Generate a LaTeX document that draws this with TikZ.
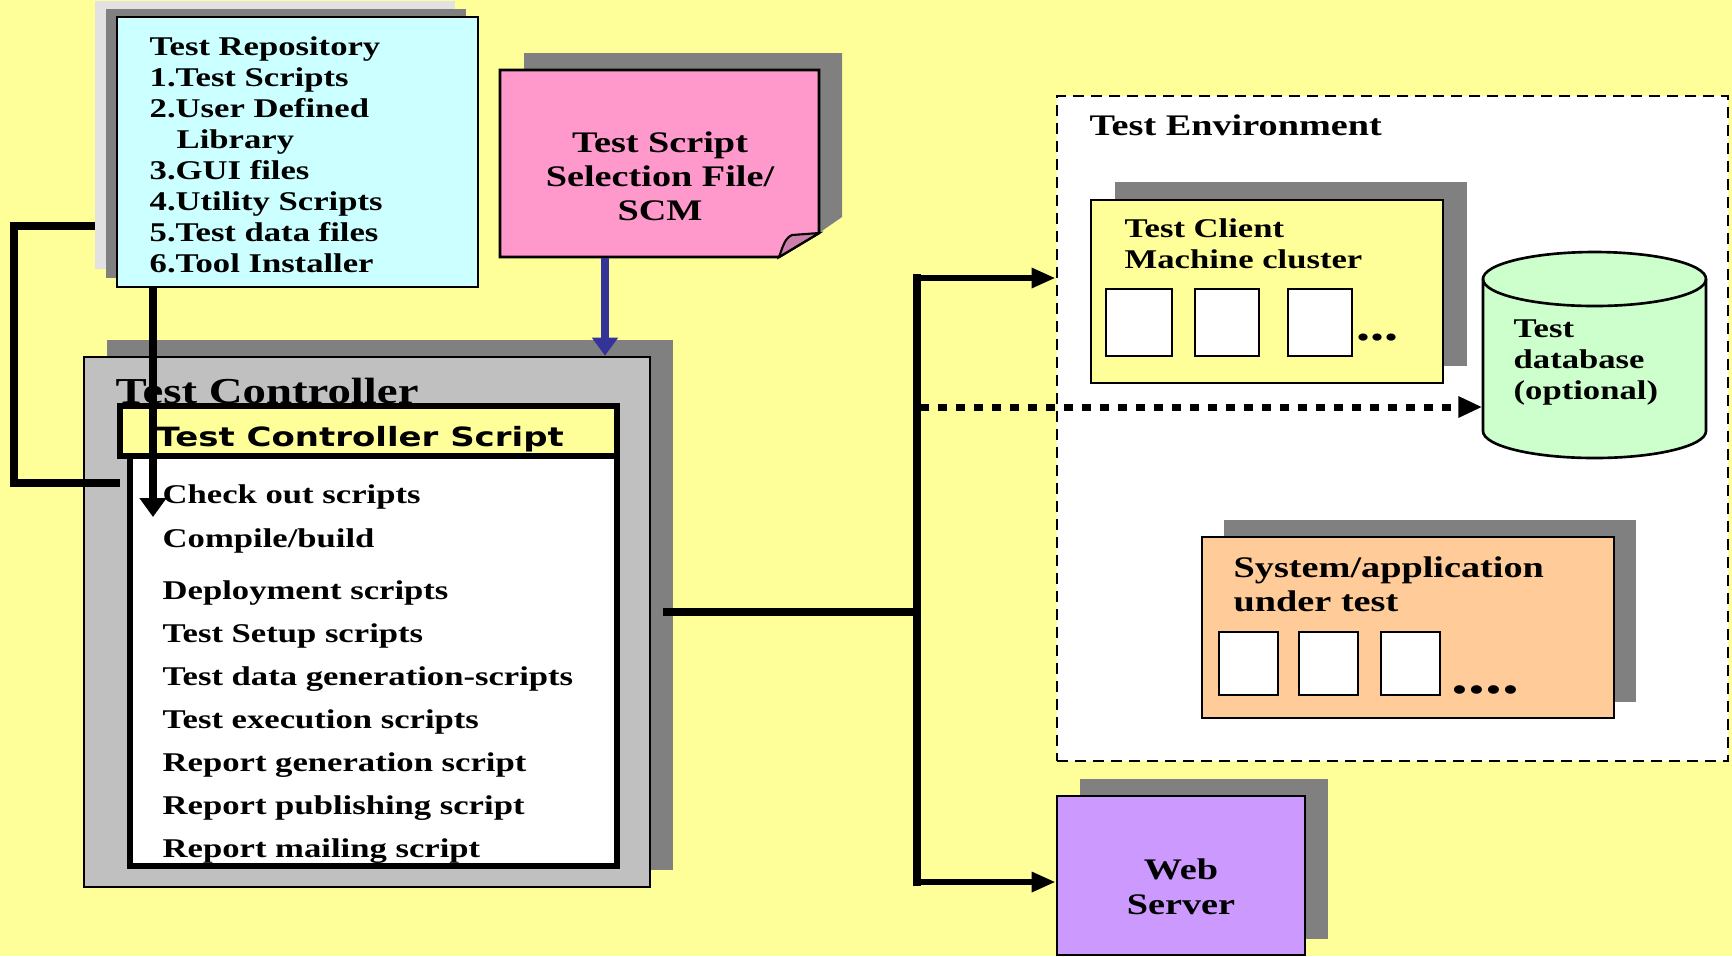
\documentclass[tikz,border=0pt]{standalone}
\usepackage{fontspec}
\setmainfont{Liberation Serif}[FakeStretch=1.28]
\newfontfamily\ctlsans{DejaVu Sans}[FakeStretch=1.28]
\usetikzlibrary{fit,arrows.meta}

\definecolor{bgyellow}{HTML}{FFFF99}
\definecolor{repocyan}{HTML}{CCFFFF}
\definecolor{notepink}{HTML}{FF99CC}
\definecolor{foldpink}{HTML}{CC7FAA}
\definecolor{dropgray}{HTML}{808080}
\definecolor{palegray}{HTML}{E2E2E2}
\definecolor{ctlgray}{HTML}{C0C0C0}
\definecolor{dbgreen}{HTML}{CCFFCC}
\definecolor{sutpeach}{HTML}{FFCC99}
\definecolor{webviolet}{HTML}{CC99FF}
\definecolor{selblue}{HTML}{333399}

% text sizes (1 unit = 0.1mm)
\newcommand\txtS{\fontsize{7.7pt}{8.8pt}\selectfont\bfseries}
\newcommand\txtM{\fontsize{8.5pt}{9.6pt}\selectfont\bfseries}
\newcommand\txtL{\fontsize{10.4pt}{12pt}\selectfont\bfseries}
\newcommand\txtC{\fontsize{7.55pt}{8.6pt}\selectfont\ctlsans\bfseries}

\begin{document}
\begin{tikzpicture}[x=0.1mm, y=-0.1mm,
  outline/.style={draw=black, line width=0.75pt, inner sep=0pt},
  heavyoutline/.style={draw=black, line width=1.5pt, inner sep=0pt},
  region/.style={inner sep=0pt},
  dropshadow/.style={fill=dropgray},
  txt/.style={anchor=base west, inner sep=0pt, font=\txtS},
  mtxt/.style={anchor=base west, inner sep=0pt, font=\txtM},
  ctxt/.style={anchor=base, inner sep=0pt, font=\txtM},
  wire/.style={line width=2.2pt},
  feed/.style={line width=1.7pt, -{Triangle[length=2.4mm,width=1.9mm]}},
  optfeed/.style={line width=2pt, dash pattern=on 0.9mm off 0.9mm,
                  -{Triangle[length=2.4mm,width=2mm]}},
  pull/.style={line width=2.2pt, -{Triangle[length=1.9mm,width=2.6mm]}},
  select/.style={draw=selblue, line width=2.3pt,
                 -{Triangle[length=1.8mm,width=2.5mm]}},
  slot/.style={outline, fill=white},
]
% page
\fill[bgyellow] (0,0) rectangle (1732,956);
\useasboundingbox (0,0) rectangle (1732,956);

% ---------------- Test repository
\fill[palegray] (95,1) rectangle (455,269);
\fill[dropshadow] (106,9) rectangle (466,278);
\node[outline, fill=repocyan, fit={(117,17) (478,287)}] (repo) {};
\node[txt] (repo-title) at (149,55) {Test Repository};
\node[txt] (repo-1) at (149,86) {1.Test Scripts};
\node[txt] (repo-2) at (149,117) {2.User Defined};
\node[txt] (repo-2b) at (176,148) {Library};
\node[txt] (repo-3) at (149,179) {3.GUI files};
\node[txt] (repo-4) at (149,210) {4.Utility Scripts};
\node[txt] (repo-5) at (149,241) {5.Test data files};
\node[txt] (repo-6) at (149,272) {6.Tool Installer};

% ---------------- Selection file (folded note)
\fill[dropshadow] (524,53) -- (842,53) -- (842,217) -- (819,233) -- (524,233) -- cycle;
\node[region, fit={(500,70) (819,257)}] (note) {};
\filldraw[fill=notepink, draw=black, line width=0.75pt]
  (500,70) -- (819,70) -- (819,233) -- (779,257) -- (500,257) -- cycle;
\filldraw[fill=foldpink, draw=black, line width=0.6pt]
  (779,257) .. controls (783,246) and (785,238) .. (792,235) -- (819,233) -- cycle;
\node[ctxt] (note-1) at (660,152) {Test Script};
\node[ctxt] (note-2) at (660,186) {Selection File/};
\node[ctxt] (note-3) at (660,220) {SCM};

% ---------------- Test controller
\fill[dropshadow] (107,340) rectangle (673,870);
\node[outline, fill=ctlgray, fit={(84,357) (650,887)}] (ctl) {};
\node[anchor=base west, inner sep=0pt, font=\txtL] (ctl-title) at (115,403) {Test Controller};
\node[heavyoutline, fill=white, fit={(130,456) (617,866)}] (steps) {};
\node[heavyoutline, fill=bgyellow, fit={(120,406) (617,456)}] (script) {};
\node[anchor=base west, inner sep=0pt, font=\txtC] (script-title) at (156,446) {Test Controller Script};
\node[txt] (step1) at (162,503) {Check out scripts};
\node[txt] (step2) at (162,547) {Compile/build};
\node[txt] (step3) at (162,599) {Deployment scripts};
\node[txt] (step4) at (162,642) {Test Setup scripts};
\node[txt] (step5) at (162,685) {Test data generation-scripts};
\node[txt] (step6) at (162,728) {Test execution scripts};
\node[txt] (step7) at (162,771) {Report generation script};
\node[txt] (step8) at (162,814) {Report publishing script};
\node[txt] (step9) at (162,857) {Report mailing script};

% ---------------- Test environment
\node[draw=black, line width=0.8pt, dash pattern=on 1.1mm off 0.7mm,
      fill=white, inner sep=0pt, fit={(1057,96) (1728,761)}] (env) {};
\node[mtxt] (env-title) at (1089,135) {Test Environment};

% client machine cluster
\fill[dropshadow] (1115,182) rectangle (1467,366);
\node[outline, fill=bgyellow, fit={(1091,200) (1443,383)}] (client) {};
\node[txt] (client-1) at (1124,237) {Test Client};
\node[txt] (client-2) at (1124,268) {Machine cluster};
\node[slot, fit={(1106,289) (1172,356)}] (cm1) {};
\node[slot, fit={(1195,289) (1259,356)}] (cm2) {};
\node[slot, fit={(1288,289) (1352,356)}] (cm3) {};
\node[anchor=base west, inner sep=0pt, font=\fontsize{12.5pt}{14pt}\selectfont\bfseries]
  (cm-more) at (1356,340) {...};

% test database
\node[region, fit={(1483,252) (1706,458)}] (db) {};
\filldraw[fill=dbgreen, draw=black, line width=0.75pt]
  (1483,279) -- (1483,431) arc[start angle=180, end angle=0, x radius=111.5, y radius=27]
  -- (1706,279) arc[start angle=0, end angle=-180, x radius=111.5, y radius=27] -- cycle;
\draw[black, line width=0.75pt]
  (1483,279) arc[start angle=180, end angle=0, x radius=111.5, y radius=27];
\node[txt] (db-1) at (1513,337) {Test};
\node[txt] (db-2) at (1513,368) {database};
\node[txt] (db-3) at (1513,399) {(optional)};

% system under test
\fill[dropshadow] (1224,520) rectangle (1636,702);
\node[outline, fill=sutpeach, fit={(1202,537) (1614,718)}] (sut) {};
\node[mtxt] (sut-1) at (1233,577) {System/application};
\node[mtxt] (sut-2) at (1233,611) {under test};
\node[slot, fit={(1219,632) (1278,695)}] (sm1) {};
\node[slot, fit={(1299,632) (1358,695)}] (sm2) {};
\node[slot, fit={(1381,632) (1440,695)}] (sm3) {};
\node[anchor=base west, inner sep=0pt, font=\fontsize{15pt}{17pt}\selectfont\bfseries]
  (sm-more) at (1451,693) {....};

% ---------------- Web server
\fill[dropshadow] (1080,779) rectangle (1328,939);
\node[outline, fill=webviolet, fit={(1057,796) (1305,955)}] (web) {};
\node[ctxt] (web-1) at (1181,879) {Web};
\node[ctxt] (web-2) at (1181,914) {Server};

% ---------------- connectors
\coordinate (selx) at (605,0);
\draw[select] (note.south -| selx) -- (ctl.north -| selx);

% repository feeds the controller script
\coordinate (bkTop) at (95,226);
\coordinate (bkBot) at (120,483);
\draw[wire, line join=miter] (bkTop) -- (14,226) -- (14,483) -- (bkBot);
\coordinate (pullx) at (153,0);
\coordinate (pullEnd) at (153,517);
\draw[pull] (repo.south -| pullx) -- (pullEnd);

% controller fans out to the environment and the web server
\coordinate (ctlOut) at (663,612);
\coordinate (jMid) at (917,612);
\coordinate (jTop) at (917,278);
\coordinate (jBot) at (917,882);
\coordinate (jDot) at (920,407);
\draw[wire] (ctlOut) -- (jMid);
\draw[wire, line cap=rect] (jTop) -- (jBot);
\draw[feed] (jTop) -- (env.west |- jTop);
\draw[feed] (jBot) -- (web.west |- jBot);
\draw[optfeed] (jDot) -- (db.west |- jDot);
\end{tikzpicture}
\end{document}
